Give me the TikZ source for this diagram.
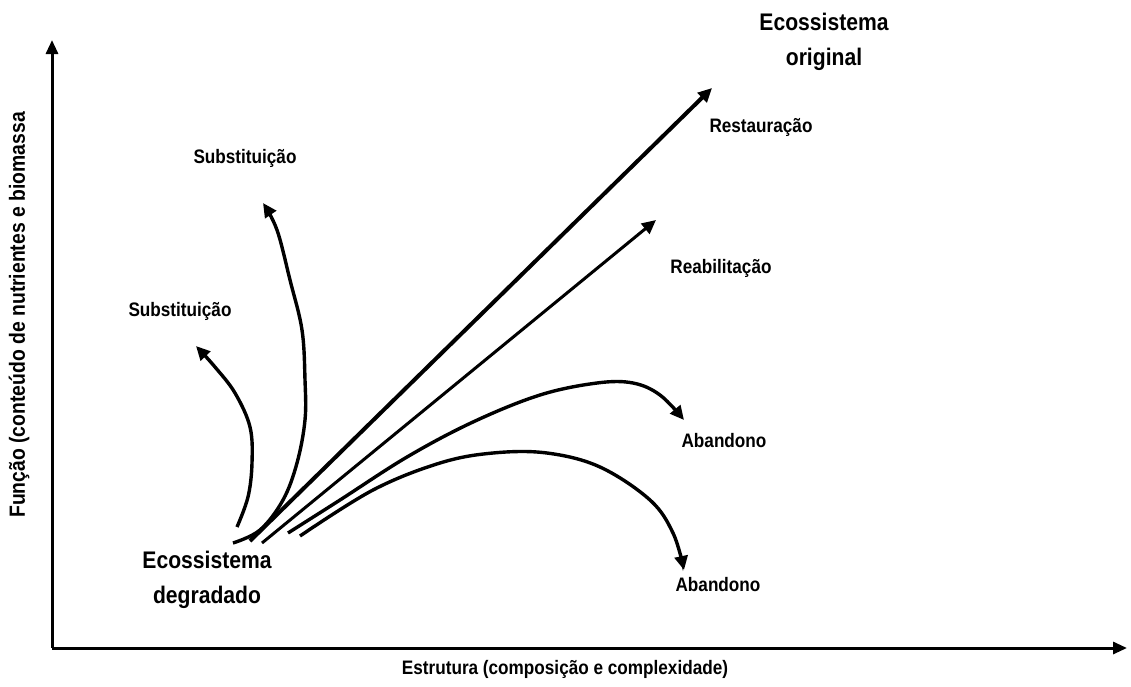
\documentclass[tikz,border=0pt]{standalone}
\usepackage{fontspec}
\setmainfont{Liberation Sans}[FakeStretch=0.88]
\usetikzlibrary{arrows.meta}
\begin{document}
\begin{tikzpicture}[x=1pt,y=-1pt,
  axis/.style={line width=3pt,-{Triangle[length=14pt,width=12pt]}},
  path/.style={line width=3.4pt,-{Triangle[length=14pt,width=13pt]}},
  biglabel/.style={font=\bfseries\fontsize{24}{35}\selectfont,align=center,inner sep=0pt},
  smalllabel/.style={font=\bfseries\fontsize{19.5}{22}\selectfont,inner sep=0pt},
  axislabel/.style={font=\bfseries\fontsize{19.5}{22}\selectfont,inner sep=0pt}]
\useasboundingbox (0,0) rectangle (1131,686);
% axes
\coordinate (O) at (52,648);
\coordinate (Ytip) at (52,40);
\coordinate (Xtip) at (1127,648);
\draw[axis] (O) -- (Ytip);
\draw[axis] (O) -- (Xtip);
\node[axislabel,rotate=90,font=\bfseries\fontsize{22}{24}\selectfont] (ylab) at (19,315) {Função (conteúdo de nutrientes e biomassa};
\node[axislabel] (xlab) at (565,669) {Estrutura (composição e complexidade)};
% texts
\node[biglabel] (deg) at (207,580) {Ecossistema\\degradado};
\node[biglabel] (orig) at (824,42) {Ecossistema\\original};
\node[smalllabel] (rest) at (761,127) {Restauração};
\node[smalllabel] (reab) at (721,268) {Reabilitação};
\node[smalllabel] (ab1) at (724,441) {Abandono};
\node[smalllabel] (ab2) at (718,585) {Abandono};
\node[smalllabel] (sub1) at (245,158) {Substituição};
\node[smalllabel] (sub2) at (180,311) {Substituição};
% start and end points
\coordinate (sRest) at (250,541);
\coordinate (eRest) at (712,88);
\coordinate (sReab) at (262,543);
\coordinate (eReab) at (656,220);
\coordinate (sSubA) at (233,543);
\coordinate (eSubA) at (263,203);
\coordinate (sSubB) at (237,527);
\coordinate (eSubB) at (196,346);
\coordinate (sAbA) at (288,533);
\coordinate (eAbA) at (684,420);
\coordinate (sAbB) at (300,536);
\coordinate (eAbB) at (684,570);
% connectors
\draw[path,line width=4pt] (sRest) -- (eRest);
\draw[path,line width=3pt] (sReab) -- (eReab);
\draw[path] plot[smooth,tension=0.6] coordinates {(sSubA) (260,530) (283,500) (297,463) (305,420) (305,380) (302,330) (290,280) (277,230) (eSubA)};
\draw[path] plot[smooth,tension=0.6] coordinates {(sSubB) (248,497) (252,463) (250,427) (235,393) (215,367) (eSubB)};
\draw[path] plot[smooth,tension=0.6] coordinates {(sAbA) (340,500) (407,457) (473,422) (540,395) (597,383) (633,383) (660,395) (eAbA)};
\draw[path] plot[smooth,tension=0.6] coordinates {(sAbB) (373,490) (440,463) (493,453) (547,453) (600,467) (650,500) (673,533) (eAbB)};
\end{tikzpicture}
\end{document}
